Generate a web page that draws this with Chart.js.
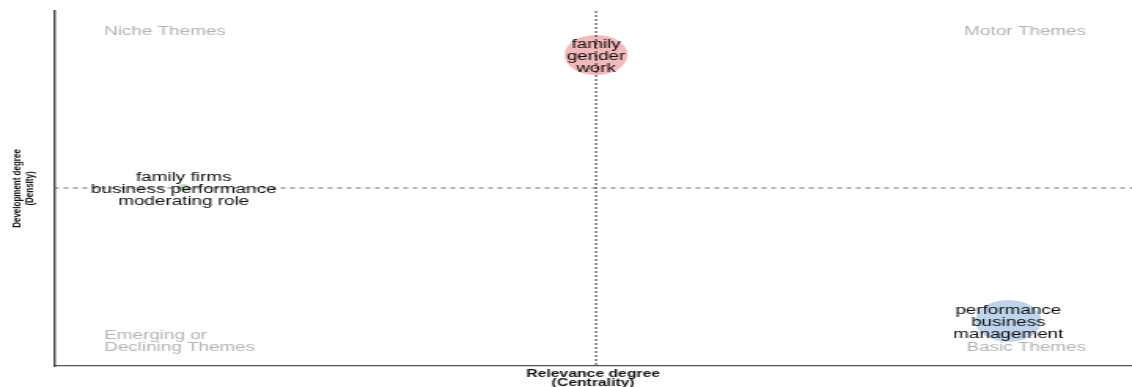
<!DOCTYPE html>
<html>
<head>
<meta charset="utf-8">
<script src="https://cdn.jsdelivr.net/npm/chart.js@4"></script>
<style>
  html, body { margin: 0; padding: 0; background: #fff; overflow: hidden; }
  /* chart is drawn narrow and stretched sideways, like the original exported plot */
  #wrap { width: 720px; height: 387px; transform: scaleX(1.5722); transform-origin: 0 0; }
</style>
</head>
<body>
<div id="wrap"><canvas id="map"></canvas></div>
<script>
const clusterLabels = [
  ['family firms', 'business performance', 'moderating role'],
  ['family', 'gender', 'work'],
  ['performance', 'business', 'management']
];
const centrality = [1, 2, 3];
const density = [2, 3, 1];
const bubbleRadius = [4, 20, 21];
const bubbleColors = ['#c2e4bf', '#f4b9bb', '#bdd4eb'];
const quadrantNames = ['Niche Themes', 'Motor Themes', 'Emerging or', 'Declining Themes', 'Basic Themes'];
const xTitle = ['Relevance degree', '(Centrality)'];
const yTitle = ['Development degree', '(Density)'];
const xRange = [0.686, 3.30];
const yRange = [0.661, 3.331];

const meanX = centrality.reduce((a, b) => a + b, 0) / centrality.length;
const meanY = density.reduce((a, b) => a + b, 0) / density.length;

const quadrants = {
  id: 'quadrants',
  afterDatasetsDraw(chart) {
    const { ctx, chartArea: a, scales: { x, y } } = chart;
    ctx.save();
    // mean lines
    ctx.lineWidth = 1;
    ctx.strokeStyle = '#333';
    ctx.setLineDash([2, 2]);
    const vx = x.getPixelForValue(meanX);
    ctx.beginPath(); ctx.moveTo(vx, a.top); ctx.lineTo(vx, a.bottom); ctx.stroke();
    ctx.strokeStyle = '#666';
    ctx.setLineDash([3, 3]);
    const hy = y.getPixelForValue(meanY);
    ctx.beginPath(); ctx.moveTo(a.left, hy); ctx.lineTo(a.right, hy); ctx.stroke();
    ctx.setLineDash([]);

    // quadrant names
    const w = a.right - a.left, h = a.bottom - a.top;
    const lx = a.left + 0.0463 * w, rx = a.right - 0.0427 * w;
    ctx.font = '12px "Liberation Sans", Arial, sans-serif';
    ctx.fillStyle = '#b3b3b3';
    ctx.textBaseline = 'middle';
    ctx.textAlign = 'left';
    ctx.fillText(quadrantNames[0], lx, a.top + 0.059 * h);
    ctx.fillText(quadrantNames[2], lx, a.top + 0.915 * h);
    ctx.fillText(quadrantNames[3], lx, a.top + 0.949 * h);
    ctx.textAlign = 'right';
    ctx.fillText(quadrantNames[1], rx, a.top + 0.059 * h);
    ctx.fillText(quadrantNames[4], rx, a.top + 0.949 * h);

    // cluster labels
    ctx.fillStyle = '#0d0d0d';
    ctx.textAlign = 'center';
    chart.getDatasetMeta(0).data.forEach((pt, i) => {
      const lines = clusterLabels[i];
      const y0 = pt.y + 1.5 - (lines.length - 1) * 11.8 / 2;
      lines.forEach((t, j) => ctx.fillText(t, pt.x, y0 + j * 11.8));
    });
    ctx.restore();
  }
};

new Chart(document.getElementById('map'), {
  type: 'bubble',
  data: {
    datasets: [{
      data: centrality.map((c, i) => ({ x: c, y: density[i], r: bubbleRadius[i] })),
      backgroundColor: bubbleColors,
      borderWidth: 0,
      hoverRadius: 0
    }]
  },
  options: {
    responsive: true,
    maintainAspectRatio: false,
    animation: false,
    layout: { autoPadding: false, padding: { top: 11, left: 0, right: 0, bottom: 0 } },
    plugins: { legend: { display: false }, tooltip: { enabled: false } },
    scales: {
      x: {
        min: xRange[0], max: xRange[1],
        ticks: { display: false },
        grid: { drawOnChartArea: false, drawTicks: false },
        border: { display: true, color: '#555', width: 1.2 },
        title: {
          display: true, text: xTitle, color: '#111',
          font: { family: '"Liberation Sans", Arial, sans-serif', size: 10, weight: 'bold', lineHeight: '9px' },
          padding: { top: 4, bottom: -1 }
        }
      },
      y: {
        min: yRange[0], max: yRange[1],
        ticks: { display: false },
        grid: { drawOnChartArea: false, drawTicks: false },
        border: { display: true, color: '#444', width: 1.4 },
        title: {
          display: true, text: yTitle, color: '#111',
          font: { family: '"Liberation Sans", Arial, sans-serif', size: 8, weight: 'bold', lineHeight: '7.5px' },
          padding: { top: 7.5, bottom: 12 }
        }
      }
    }
  },
  plugins: [quadrants]
});
</script>
</body>
</html>
